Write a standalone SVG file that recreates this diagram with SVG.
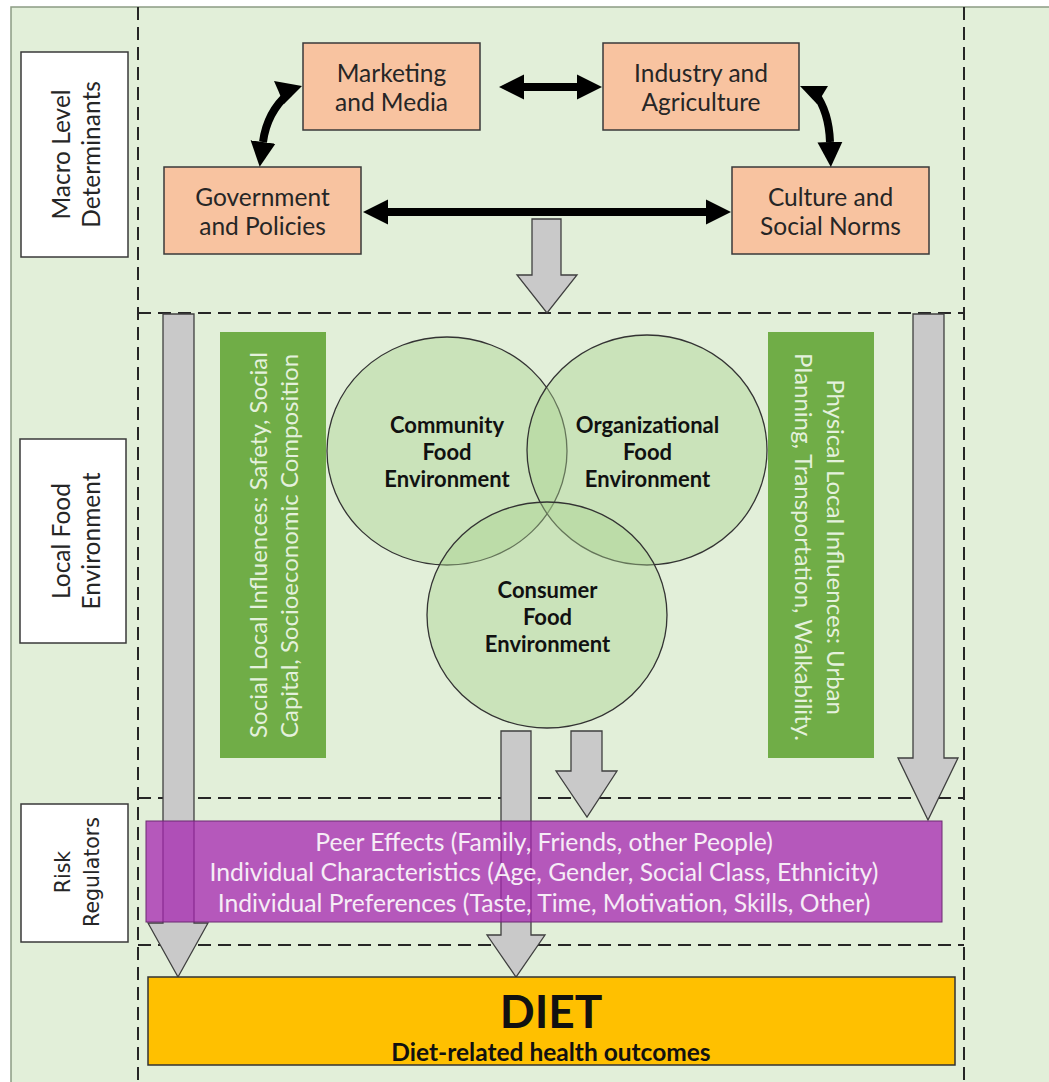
<svg xmlns="http://www.w3.org/2000/svg" width="1049" height="1082" viewBox="0 0 1049 1082">
<defs>
<style>
.bg{fill:#e2efd9;stroke:#8c9c84;stroke-width:1.5}
.dash{fill:none;stroke:#262626;stroke-width:2;stroke-dasharray:13 7}
.org{fill:#f8c3a0;stroke:#3a3a3a;stroke-width:1.5}
.lbl{fill:#ffffff;stroke:#3a3a3a;stroke-width:1.5}
.grn{fill:#70ad47}
.circ{fill:#a9d18e;fill-opacity:0.42;stroke:#333;stroke-width:1.3}
.gray{fill:#c9c9c9;stroke:#3f3f3f;stroke-width:1.3}
.blk{fill:none;stroke:#000;stroke-width:8}
.t{font-family:Lato,"Liberation Sans",sans-serif;fill:#262626;text-anchor:middle}
.tb{font-family:Lato,"Liberation Sans",sans-serif;font-weight:bold;fill:#111;text-anchor:middle}
.tw{font-family:Lato,"Liberation Sans",sans-serif;fill:#e4f1dc;text-anchor:middle}
.tp{font-family:Lato,"Liberation Sans",sans-serif;fill:#f6ecf6;text-anchor:middle;font-size:24.7px}
</style>
<marker id="ah" markerUnits="userSpaceOnUse" viewBox="0 -13 26 26" refX="0" refY="0" markerWidth="26" markerHeight="26" orient="auto-start-reverse">
<path d="M0,-12.5 L25,0 L0,12.5 z" fill="#000"/>
</marker>
</defs>

<rect class="bg" x="11" y="7" width="1040" height="1078"/>

<g id="dashes">
<line class="dash" x1="138" y1="7" x2="138" y2="1082"/>
<line class="dash" x1="964" y1="7" x2="964" y2="1082"/>
<line class="dash" x1="138" y1="313" x2="964" y2="313"/>
<line class="dash" x1="138" y1="798" x2="964" y2="798"/>
<line class="dash" x1="138" y1="945" x2="964" y2="945"/>
</g>

<g id="label-macro">
<rect class="lbl" x="21" y="52" width="107" height="205"/>
<text class="t" font-size="24.5" transform="translate(70,154.5) rotate(-90)" x="0" y="0">Macro Level</text>
<text class="t" font-size="24.5" transform="translate(100,154.5) rotate(-90)" x="0" y="0">Determinants</text>
</g>
<g id="label-local">
<rect class="lbl" x="20" y="439" width="106" height="204"/>
<text class="t" font-size="24.5" transform="translate(70,541) rotate(-90)" x="0" y="0">Local Food</text>
<text class="t" font-size="24.5" transform="translate(100,541) rotate(-90)" x="0" y="0">Environment</text>
</g>
<g id="label-risk">
<rect class="lbl" x="21" y="804" width="107" height="138"/>
<text class="t" style="font-family:'DejaVu Sans',sans-serif" font-size="20.5" transform="translate(70,872) rotate(-90)" x="0" y="0">Risk</text>
<text class="t" style="font-family:'DejaVu Sans',sans-serif" font-size="20.5" transform="translate(99,872) rotate(-90)" x="0" y="0">Regulators</text>
</g>

<g id="marketing">
<rect class="org" x="303" y="43" width="177" height="87"/>
<text class="t" font-size="24.5" x="391.5" y="82">Marketing</text>
<text class="t" font-size="24.5" x="391.5" y="111">and Media</text>
</g>
<g id="industry">
<rect class="org" x="603" y="43" width="196" height="87"/>
<text class="t" font-size="24.5" x="701" y="82">Industry and</text>
<text class="t" font-size="24.5" x="701" y="111">Agriculture</text>
</g>
<g id="government">
<rect class="org" x="164" y="167" width="197" height="87"/>
<text class="t" font-size="24.5" x="262.5" y="206">Government</text>
<text class="t" font-size="24.5" x="262.5" y="235">and Policies</text>
</g>
<g id="culture">
<rect class="org" x="732" y="167" width="197" height="87"/>
<text class="t" font-size="24.5" x="830.5" y="206">Culture and</text>
<text class="t" font-size="24.5" x="830.5" y="235">Social Norms</text>
</g>

<g id="social-influences">
<rect class="grn" x="220" y="332" width="106" height="426"/>
<text class="tw" font-size="24" transform="translate(267,545) rotate(-90)" x="0" y="0">Social Local Influences: Safety, Social</text>
<text class="tw" font-size="24" transform="translate(298,546) rotate(-90)" x="0" y="0">Capital, Socioeconomic Composition</text>
</g>
<g id="physical-influences">
<rect class="grn" x="768" y="332" width="106" height="426"/>
<text class="tw" font-size="24" transform="translate(827,547) rotate(90)" x="0" y="0">Physical Local Influences: Urban</text>
<text class="tw" font-size="24" transform="translate(795,547) rotate(90)" x="0" y="0">Planning, Transportation, Walkability.</text>
</g>

<g id="community">
<ellipse class="circ" cx="447" cy="451" rx="120" ry="114"/>
</g>
<g id="organizational">
<ellipse class="circ" cx="647" cy="450" rx="120" ry="115"/>
</g>
<g id="consumer">
<ellipse class="circ" cx="547" cy="615" rx="120" ry="113"/>
</g>
<g id="circle-labels">
<text class="tb" font-size="22" x="447" y="433">Community</text>
<text class="tb" font-size="22" x="447" y="460">Food</text>
<text class="tb" font-size="22" x="447" y="487">Environment</text>
<text class="tb" font-size="22" x="647.5" y="433">Organizational</text>
<text class="tb" font-size="22" x="647.5" y="460">Food</text>
<text class="tb" font-size="22" x="647.5" y="487">Environment</text>
<text class="tb" font-size="22" x="547.5" y="598">Consumer</text>
<text class="tb" font-size="22" x="547.5" y="625">Food</text>
<text class="tb" font-size="22" x="547.5" y="652">Environment</text>
</g>

<g id="connectors">
<line class="blk" x1="524" y1="87" x2="577" y2="87" marker-start="url(#ah)" marker-end="url(#ah)"/>
<line class="blk" x1="388" y1="212" x2="706" y2="212" stroke-width="9" marker-start="url(#ah)" marker-end="url(#ah)"/>
<path class="blk" d="M289,93 Q267,112 263,142" marker-end="url(#ah)"/>
<polygon points="274,81 302,86 284,104" fill="#000"/>
<path class="blk" d="M815,93 Q829,112 830,142" marker-end="url(#ah)"/>
<polygon points="800,86 828,86 817,104" fill="#000"/>
<polygon class="gray" points="532,219 561,219 561,275 577,275 547,313 517,275 532,275"/>
<polygon class="gray" points="163,314 194,314 194,923 208,923 178,977 148,923 163,923"/>
<polygon class="gray" points="913,314 944,314 944,758 958,758 928,820 898,758 913,758"/>
<polygon class="gray" points="501,731 531,731 531,935 545,935 516,977 487,935 501,935"/>
<polygon class="gray" points="571,731 602,731 602,771 617,771 587,817 556,771 571,771"/>
</g>

<g id="risk-regulators">
<rect x="146" y="821" width="796" height="101" fill="#a626b0" fill-opacity="0.75" stroke="#6d2a72" stroke-width="1"/>
<text class="tp" x="544" y="851">Peer Effects (Family, Friends, other People)</text>
<text class="tp" x="544" y="881">Individual Characteristics (Age, Gender, Social Class, Ethnicity)</text>
<text class="tp" x="544" y="912">Individual Preferences (Taste, Time, Motivation, Skills, Other)</text>
</g>

<g id="diet">
<rect x="148" y="977" width="807" height="88" fill="#ffc000" stroke="#333" stroke-width="1.5"/>
<text class="tb" font-size="46" x="551" y="1028">DIET</text>
<text class="tb" font-size="24.5" x="551" y="1061">Diet-related health outcomes</text>
</g>
</svg>
